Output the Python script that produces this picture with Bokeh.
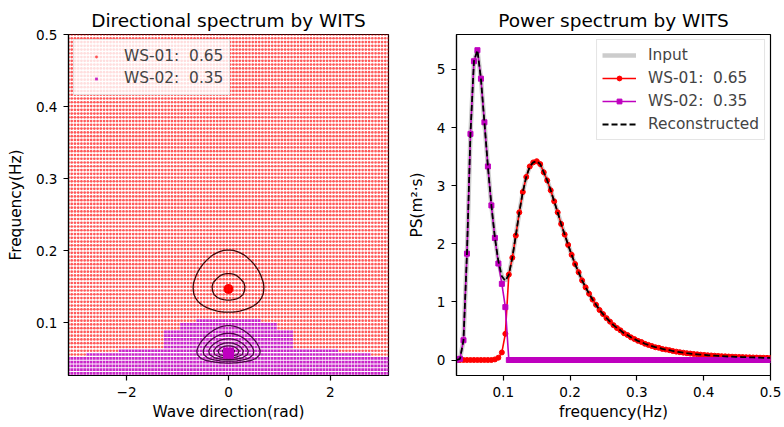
import numpy as np
import contourpy
from bokeh.plotting import figure
from bokeh.layouts import row
from bokeh.models import Legend, LegendItem, FixedTicker, Range1d
from bokeh.embed import file_html
from bokeh.resources import INLINE

FONT = "DejaVu Sans"

# ---------------- data ----------------
# frequency bins (Hz) and direction bins (rad) of the spectrum grid
freq = np.linspace(0.03, 0.5, 91)
direction = np.linspace(-np.pi, np.pi, 100)

# 1-D power spectra of the two wave systems
ws01_ps = [0.0, 0.0, 0.0, 0.0, 0.0, 0.0, 0.0, 0.0, 0.0, 0.0,
           0.0, 0.01, 0.04, 0.13, 0.45, 1.47, 1.76, 2.14, 2.54, 2.89,
           3.15, 3.33, 3.40, 3.42, 3.37, 3.23, 3.09, 2.92, 2.73, 2.54,
           2.34, 2.16, 1.98, 1.81, 1.65, 1.51, 1.37, 1.25, 1.14, 1.04,
           0.95, 0.86, 0.79, 0.72, 0.66, 0.60, 0.55, 0.51, 0.46, 0.43,
           0.39, 0.36, 0.33, 0.31, 0.28, 0.26, 0.24, 0.22, 0.21, 0.19,
           0.18, 0.17, 0.155, 0.144, 0.135, 0.126, 0.118, 0.111, 0.104, 0.098,
           0.092, 0.087, 0.082, 0.078, 0.074, 0.070, 0.066, 0.063, 0.060, 0.057,
           0.054, 0.052, 0.050, 0.048, 0.046, 0.044, 0.042, 0.040, 0.038, 0.037,
           0.035]
ws02_ps = [0.0, 0.02, 0.34, 1.83, 3.89, 5.14, 5.33, 4.84, 4.09, 3.33,
           2.66, 2.10, 1.66, 1.31, 0.91] + [0.0] * 76

# half-width (rad) of the WS-02 region in the lowest frequency bins
ws02_halfwidth = [3.1416, 3.1416, 3.1416, 3.1416, 3.1416, 2.82, 2.17,
                  1.25, 1.25, 1.25, 1.25, 1.25, 0.98, 0.98, 0.62]

ws_labels = ["WS-01:  0.65", "WS-02:  0.35"]
peak_dir = [0.0, 0.0]
peak_freq = [0.147, 0.058]
spread_2s = [10, 27]
ws01_levels = [1.85, 3.0]
ws02_levels = [1.42, 2.3, 3.2, 4.0, 4.6, 5.05]

x_ticks_dir = [-2, 0, 2]
y_ticks_freq = [0.1, 0.2, 0.3, 0.4, 0.5]
y_ticks_ps = [0, 1, 2, 3, 4, 5]

RED = "#ff0000"
MAG = "#bf00bf"


def style(p):
    p.grid.visible = False
    p.background_fill_color = "white"
    p.border_fill_color = "white"
    p.outline_line_color = "black"
    p.outline_line_width = 1.2
    p.outline_line_alpha = 1.0
    p.title.align = "center"
    p.title.text_font = FONT
    p.title.text_font_size = "18.5px"
    p.title.text_font_style = "normal"
    p.title.text_color = "black"
    p.title.standoff = 8
    for ax in p.axis:
        ax.axis_line_color = "black"
        ax.axis_line_width = 1.2
        ax.major_tick_in = 0
        ax.major_tick_out = 5
        ax.major_tick_line_color = "black"
        ax.major_tick_line_width = 1.2
        ax.minor_tick_line_color = None
        ax.major_label_text_font = FONT
        ax.major_label_text_font_size = "13.6px"
        ax.major_label_text_color = "black"
        ax.axis_label_text_font = FONT
        ax.axis_label_text_font_size = "15.4px"
        ax.axis_label_text_font_style = "normal"
        ax.axis_label_text_color = "black"
        ax.major_label_standoff = 6
    p.xaxis.axis_label_standoff = 3
    p.yaxis.axis_label_standoff = 8


# ---------------- left: directional spectrum ----------------
p1 = figure(width=404, height=427, x_range=Range1d(-np.pi, np.pi),
            y_range=Range1d(0.027, 0.5), output_backend="svg",
            toolbar_location=None, title="Directional spectrum by WITS",
            min_border_left=68, min_border_right=16, min_border_top=34,
            min_border_bottom=52)

TH, FF = np.meshgrid(direction, freq)
hw = np.zeros(len(freq))
hw[:len(ws02_halfwidth)] = ws02_halfwidth
is02 = (np.abs(TH) <= hw[:, None]) & (hw[:, None] > 0)

r_s1 = p1.scatter(TH[~is02], FF[~is02], marker="circle", size=2.7,
                  fill_color=RED, line_color=None, fill_alpha=0.65)
r_s2 = p1.scatter(TH[is02], FF[is02], marker="square", size=2.7,
                  fill_color=MAG, line_color=None, fill_alpha=0.85)

ws_ps = [np.array(ws01_ps), np.array(ws02_ps)]
ws_levels = [ws01_levels, ws02_levels]
contour_colors = ["#3c0a0a", "#4a0a46"]
for k in range(2):
    E = np.outer(ws_ps[k], np.cos(direction / 2.0) ** spread_2s[k])
    gen = contourpy.contour_generator(x=direction, y=freq, z=E)
    xs, ys = [], []
    for lev in ws_levels[k]:
        for seg in gen.lines(lev):
            xs.append(seg[:, 0].tolist())
            ys.append(seg[:, 1].tolist())
    p1.multi_line(xs, ys, line_color=contour_colors[k], line_width=1.3)

p1.scatter([peak_dir[0]], [peak_freq[0]], marker="circle", size=10,
           fill_color=RED, line_color=None)
p1.scatter([peak_dir[1]], [peak_freq[1]], marker="square", size=11,
           fill_color=MAG, line_color=None)

p1.xaxis.ticker = FixedTicker(ticks=x_ticks_dir)
p1.xaxis.major_label_overrides = {-2: "\u22122"}
p1.yaxis.ticker = FixedTicker(ticks=y_ticks_freq)
p1.xaxis.axis_label = "Wave direction(rad)"
p1.yaxis.axis_label = "Frequency(Hz)"
style(p1)

leg1 = Legend(items=[LegendItem(label=ws_labels[0], renderers=[r_s1]),
                     LegendItem(label=ws_labels[1], renderers=[r_s2])],
              location="top_left")
leg1.margin = 5
leg1.padding = 6
leg1.spacing = 2
leg1.glyph_width = 32
leg1.glyph_height = 7
leg1.label_height = 20
leg1.label_standoff = 12
leg1.label_text_font = FONT
leg1.label_text_font_size = "15.4px"
leg1.background_fill_color = "white"
leg1.background_fill_alpha = 0.8
leg1.border_line_color = "#cccccc"
leg1.border_line_width = 1
p1.add_layout(leg1, "center")

# ---------------- right: power spectrum ----------------
p2 = figure(width=380, height=427, x_range=Range1d(0.03, 0.5),
            y_range=Range1d(-0.2665, 5.6), output_backend="svg",
            toolbar_location=None, title="Power spectrum by WITS",
            min_border_left=48, min_border_right=14, min_border_top=34,
            min_border_bottom=52)

total = ws_ps[0] + ws_ps[1]
r_in = p2.line(freq, total, line_color="#cccccc", line_width=4.5)
r1l = p2.line(freq, ws01_ps, line_color=RED, line_width=1.6)
r1m = p2.scatter(freq, ws01_ps, marker="circle", size=5, fill_color=RED,
                 line_color=RED)
r2l = p2.line(freq, ws02_ps, line_color=MAG, line_width=1.6)
r2m = p2.scatter(freq, ws02_ps, marker="square", size=5, fill_color=MAG,
                 line_color=MAG)
r_rec = p2.line(freq, total, line_color="black", line_width=1.8,
                line_dash="6 3")

p2.xaxis.ticker = FixedTicker(ticks=y_ticks_freq)
p2.yaxis.ticker = FixedTicker(ticks=y_ticks_ps)
p2.xaxis.axis_label = "frequency(Hz)"
p2.yaxis.axis_label = "PS(m\u00b2\u00b7s)"
style(p2)

leg2 = Legend(items=[LegendItem(label="Input", renderers=[r_in]),
                     LegendItem(label=ws_labels[0], renderers=[r1l, r1m]),
                     LegendItem(label=ws_labels[1], renderers=[r2l, r2m]),
                     LegendItem(label="Reconstructed", renderers=[r_rec])],
              location="top_right")
leg2.margin = 5
leg2.padding = 5
leg2.spacing = 3
leg2.glyph_width = 34
leg2.glyph_height = 12
leg2.label_height = 20
leg2.label_standoff = 12
leg2.label_text_font = FONT
leg2.label_text_font_size = "15.4px"
leg2.background_fill_color = "white"
leg2.background_fill_alpha = 0.8
leg2.border_line_color = "#cccccc"
leg2.border_line_width = 1
p2.add_layout(leg2, "center")

layout = row(p1, p2)
open("out.html", "w").write(file_html(layout, INLINE))
